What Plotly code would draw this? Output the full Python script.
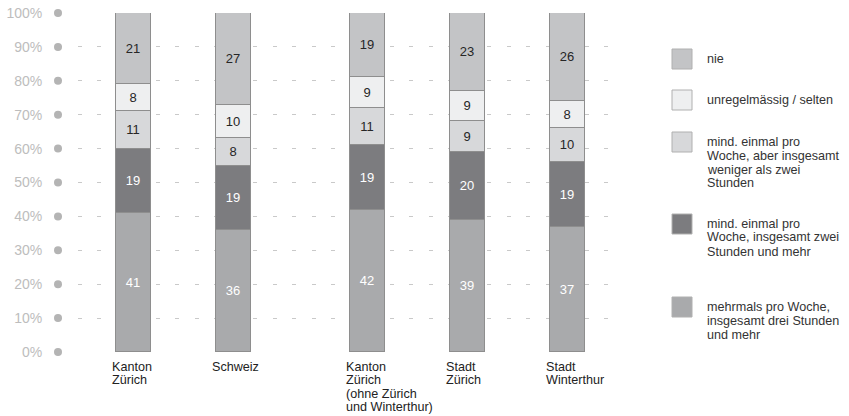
import plotly.graph_objects as go

# ---- data ----
regions = ["Kanton Zürich", "Schweiz", "Kanton Zürich (ohne Zürich und Winterthur)",
           "Stadt Zürich", "Stadt Winterthur"]
region_lines = [["Kanton", "Zürich"], ["Schweiz"],
                ["Kanton", "Zürich", "(ohne Zürich", "und Winterthur)"],
                ["Stadt", "Zürich"], ["Stadt", "Winterthur"]]
series_names = [
    "mehrmals pro Woche, insgesamt drei Stunden und mehr",
    "mind. einmal pro Woche, insgesamt zwei Stunden und mehr",
    "mind. einmal pro Woche, aber insgesamt weniger als zwei Stunden",
    "unregelmässig / selten",
    "nie",
]
mehrmals = [41, 36, 42, 39, 37]
einmal_zwei = [19, 19, 19, 20, 19]
einmal_weniger = [11, 8, 11, 9, 10]
unregelmaessig = [8, 10, 9, 9, 8]
nie = [21, 27, 19, 23, 26]
series_values = [mehrmals, einmal_zwei, einmal_weniger, unregelmaessig, nie]
y_ticks = [0, 10, 20, 30, 40, 50, 60, 70, 80, 90, 100]
y_tick_labels = ["0%", "10%", "20%", "30%", "40%", "50%", "60%", "70%", "80%", "90%", "100%"]

legend_lines = {
    "nie": ["nie"],
    "unregelmässig / selten": ["unregelmässig / selten"],
    "mind. einmal pro Woche, aber insgesamt weniger als zwei Stunden":
        ["mind. einmal pro", "Woche, aber insgesamt", "weniger als zwei", "Stunden"],
    "mind. einmal pro Woche, insgesamt zwei Stunden und mehr":
        ["mind. einmal pro", "Woche, insgesamt zwei", "Stunden und mehr"],
    "mehrmals pro Woche, insgesamt drei Stunden und mehr":
        ["mehrmals pro Woche,", "insgesamt drei Stunden", "und mehr"],
}

# ---- styling / layout ----
colors = ["#a9aaac", "#7c7c7f", "#d7d8da", "#eeeff0", "#c3c4c6"]
text_colors = ["#ffffff", "#ffffff", "#262626", "#262626", "#262626"]
x_pos = [0, 1, 2.34, 3.34, 4.34]
W, H = 849, 416
ML, MR, MT, MB = 58, 237, 13, 64
PW, PH = W - ML - MR, H - MT - MB
X0 = -0.755
X1 = X0 + PW / 100.0
FONT = "Liberation Sans, Arial, sans-serif"


def px_x(px):
    return (px - ML) / PW


def px_y(py):
    return (H - MB - py) / PH


fig = go.Figure()
for name, vals, col, tcol in zip(series_names, series_values, colors, text_colors):
    fig.add_trace(go.Bar(
        x=x_pos, y=vals, name=name, width=0.35,
        marker=dict(color=col, line=dict(color="#8e8e8e", width=1)),
        text=[str(v) for v in vals], textposition="inside",
        insidetextanchor="middle", textangle=0, constraintext="none",
        textfont=dict(family=FONT, size=13, color=tcol),
        hoverinfo="skip", showlegend=False,
    ))

# grey dots at the start of each gridline
fig.add_trace(go.Scatter(
    x=[X0] * len(y_ticks), y=y_ticks, mode="markers",
    marker=dict(color="#b4b4b4", size=8), cliponaxis=False,
    hoverinfo="skip", showlegend=False,
))

annotations = []
shapes = []
# category labels
for xp, lines in zip(x_pos, region_lines):
    for i, line in enumerate(lines):
        annotations.append(dict(
            x=xp - 0.2, y=0, xref="x", yref="paper", xanchor="left", yanchor="top",
            xshift=-3, yshift=-(7 + 13.4 * i), text=line, showarrow=False,
            borderpad=0, font=dict(family=FONT, size=12.6, color="#222222"),
        ))

# legend (custom)
legend_order = ["nie", "unregelmässig / selten",
                "mind. einmal pro Woche, aber insgesamt weniger als zwei Stunden",
                "mind. einmal pro Woche, insgesamt zwei Stunden und mehr",
                "mehrmals pro Woche, insgesamt drei Stunden und mehr"]
legend_top = [49, 90, 132, 214, 297]
for name, top in zip(legend_order, legend_top):
    idx = series_names.index(name)
    shapes.append(dict(
        type="rect", xref="paper", yref="paper",
        x0=px_x(672), x1=px_x(692), y0=px_y(top), y1=px_y(top + 20),
        fillcolor=colors[idx], line=dict(color="#b0b0b0", width=1),
    ))
    lines = legend_lines[name]
    for i, line in enumerate(lines):
        cy = top + 10 if len(lines) == 1 else top + 9.5 + 14 * i
        annotations.append(dict(
            x=px_x(706), y=px_y(cy), xref="paper", yref="paper",
            xanchor="left", yanchor="middle", text=line, showarrow=False,
            borderpad=0, font=dict(family=FONT, size=12.6, color="#333333"),
        ))

fig.update_layout(
    width=W, height=H, barmode="stack", bargap=0,
    margin=dict(l=ML, r=MR, t=MT, b=MB, pad=0, autoexpand=False),
    plot_bgcolor="white", paper_bgcolor="white",
    annotations=annotations, shapes=shapes,
    xaxis=dict(range=[X0, X1], showgrid=False, zeroline=False, showline=False,
               showticklabels=False, fixedrange=True, automargin=False),
    yaxis=dict(range=[0, 100], tickmode="array", tickvals=y_ticks, ticktext=y_tick_labels,
               showgrid=True, gridcolor="#c9c9c9", gridwidth=1, griddash="4px,15.5px",
               zeroline=False, showline=False, ticks="outside", ticklen=12,
               tickcolor="rgba(0,0,0,0)", automargin=False,
               tickfont=dict(family=FONT, size=14, color="#bdbdbd"), fixedrange=True),
)

fig.write_html("out.html", config={"displayModeBar": False},
               post_script="document.body.style.margin='0';")
